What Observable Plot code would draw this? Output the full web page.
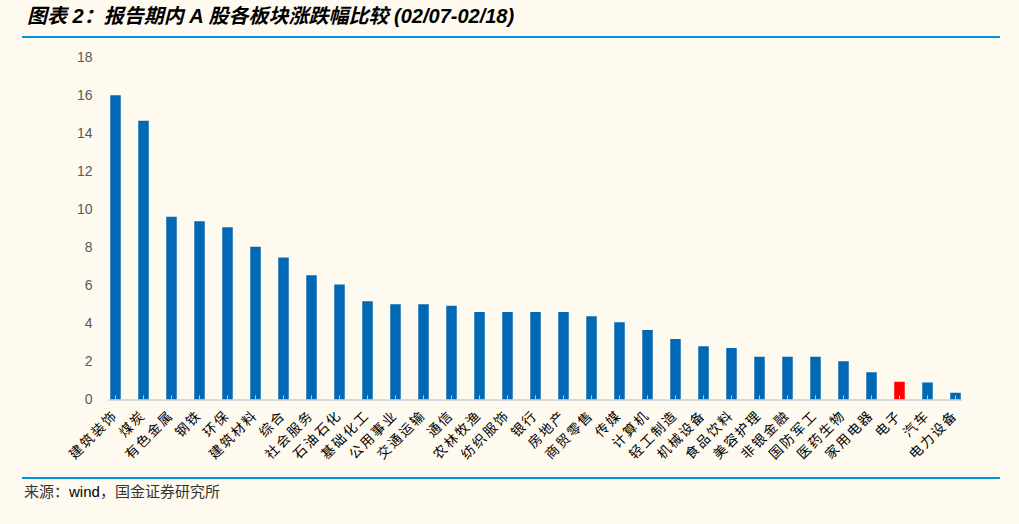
<!DOCTYPE html>
<html><head><meta charset="utf-8">
<script src="https://cdn.jsdelivr.net/npm/d3@7"></script>
<script src="https://cdn.jsdelivr.net/npm/@observablehq/plot@0.6"></script>
<style>
html,body{margin:0;padding:0;background:#fffaf0;width:1019px;height:524px;overflow:hidden;position:relative}
#title{position:absolute;left:27px;top:5px;font:italic bold 20px "Liberation Sans","Noto Sans CJK SC",sans-serif;color:#000;white-space:nowrap;line-height:22px}
.rule{position:absolute;left:22px;width:978px;height:2px;background:#0095d9}
#chart{position:absolute;left:0;top:40px}
#caption{position:absolute;left:24px;top:481px;font:15px "Noto Sans CJK SC",sans-serif;color:#333;line-height:20px}
#caption .lat{font-family:"Liberation Sans",sans-serif;color:#000}
#chart g[aria-label="x-axis tick label"] text{letter-spacing:2px}
</style></head><body>
<div id="title">图表 2：报告期内 A 股各板块涨跌幅比较 (02/07-02/18)</div>
<div class="rule" style="top:36px"></div>
<div id="chart"></div>
<div class="rule" style="top:477px"></div>
<div id="caption">来源：<span class="lat">wind</span>，国金证券研究所</div>
<script>
const sectors = ["建筑装饰","煤炭","有色金属","钢铁","环保","建筑材料","综合","社会服务","石油石化","基础化工","公用事业","交通运输","通信","农林牧渔","纺织服饰","银行","房地产","商贸零售","传媒","计算机","轻工制造","机械设备","食品饮料","美容护理","非银金融","国防军工","医药生物","家用电器","电子","汽车","电力设备"];
const changes = [16.01,14.67,9.62,9.38,9.06,8.04,7.48,6.54,6.05,5.17,5.01,5.01,4.94,4.61,4.61,4.61,4.61,4.38,4.06,3.66,3.19,2.8,2.71,2.25,2.25,2.25,2.01,1.44,0.94,0.9,0.36];
const highlight = "电子";
const yTicks = [0,2,4,6,8,10,12,14,16,18];

const data = sectors.map((s, i) => ({sector: s, value: changes[i], color: s === highlight ? "#ff0000" : "#0068b5"}));

const chart = Plot.plot({
  width: 1019,
  height: 432,
  marginTop: 17.5,
  marginBottom: 72.5,
  marginLeft: 108,
  marginRight: 57,
  style: {background: "transparent", fontFamily: '"Noto Sans CJK SC", sans-serif'},
  x: {type: "point", domain: sectors, range: [108.9, 960.9], padding: 0},
  y: {domain: [0, 18]},
  color: {type: "identity"},
  marks: [
    Plot.ruleY([0], {stroke: "#d9d9d9", strokeWidth: 2}),
    Plot.ruleX(data, {x: "sector", y1: 0, y2: "value", stroke: "color", strokeWidth: 10.5, clip: true}),
    Plot.axisX({tickSize: -4, tickFormat: () => "", stroke: "#b9c9dc", label: null}),
    Plot.axisX({tickSize: 0, tickPadding: 13, tickRotate: -45, fontSize: 13.5, fill: "#000", label: null}),
    Plot.axisY({ticks: yTicks, tickSize: 0, tickPadding: 16, fontSize: 14, fill: "#595959", fontFamily: '"Liberation Sans", sans-serif', label: null})
  ]
});
document.getElementById("chart").appendChild(chart);
</script>
</body></html>
